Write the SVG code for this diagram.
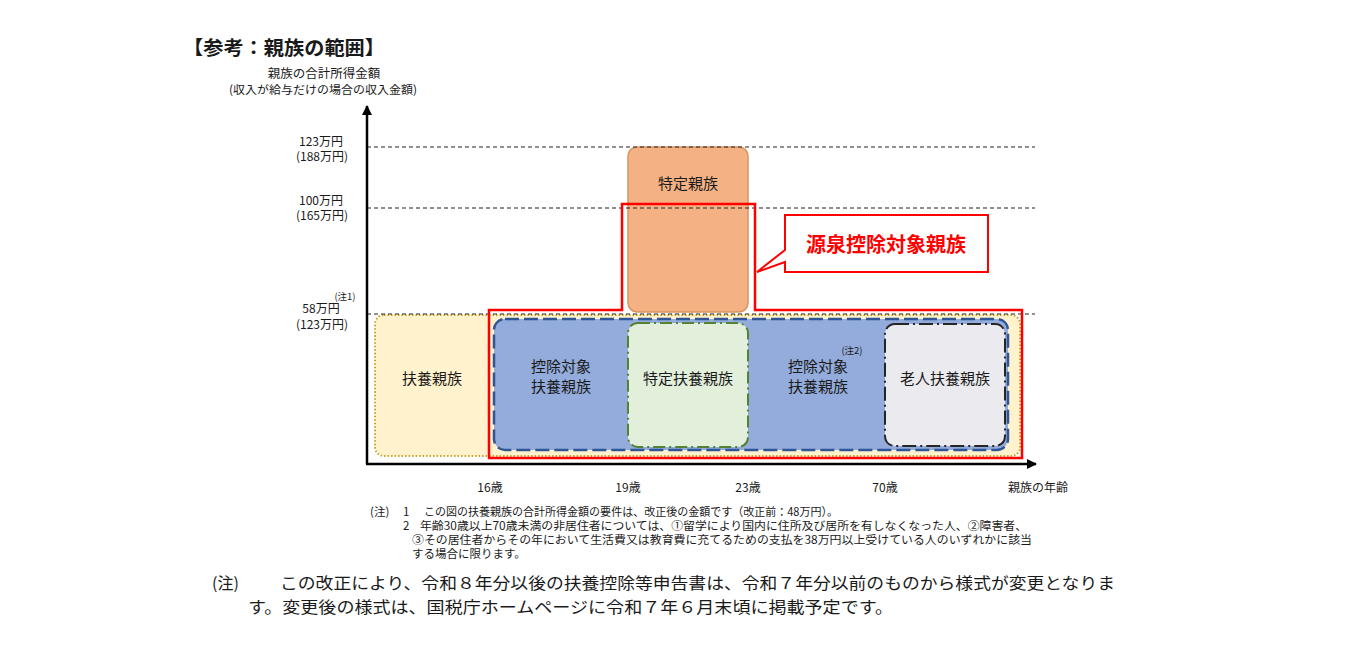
<svg xmlns="http://www.w3.org/2000/svg" width="1360" height="652" viewBox="0 0 1360 652">
<defs>
<style>
text{font-family:"Noto Sans CJK JP","Noto Sans",sans-serif;fill:#1a1a1a;font-variant-ligatures:none}
.lbl{font-size:15px;text-anchor:middle}
.ax{font-size:12px;text-anchor:middle}
.note{font-size:11.5px}
.big{font-size:16px}
.grid{stroke:#222;stroke-width:1;stroke-dasharray:4 3;fill:none}
</style>
<marker id="arr" viewBox="0 0 10 10" refX="9" refY="5" markerWidth="10" markerHeight="10" markerUnits="userSpaceOnUse" orient="auto">
<path d="M0,0 L10,5 L0,10 Z" fill="#000"/>
</marker>
</defs>
<rect width="1360" height="652" fill="#fff"/>

<g id="title">
<text x="183" y="55" style="font-size:19px;font-weight:bold" textLength="202" lengthAdjust="spacingAndGlyphs">【参考：親族の範囲】</text>
<text x="324" y="78" style="font-size:12.5px" text-anchor="middle">親族の合計所得金額</text>
<text x="323" y="94" style="font-size:11.5px" text-anchor="middle" textLength="188" lengthAdjust="spacingAndGlyphs">(収入が給与だけの場合の収入金額)</text>
</g>

<g id="y-labels" class="ax">
<text x="321" y="146">123万円</text>
<text x="322" y="161">(188万円)</text>
<text x="321" y="205">100万円</text>
<text x="322" y="220">(165万円)</text>
<text x="345" y="300" style="font-size:9.5px">(注1)</text>
<text x="321" y="313">58万円</text>
<text x="322" y="329">(123万円)</text>
</g>

<g id="fuyou">
<rect x="375" y="315" width="645" height="141" rx="9" fill="#FFF2CC" stroke="#C9A227" stroke-width="2" stroke-dasharray="1.5 2"/>
<text class="lbl" x="432" y="384">扶養親族</text>
</g>

<g id="koujo-taishou">
<rect x="494" y="319" width="514" height="131" rx="11" fill="#93ACDB" stroke="#2F5597" stroke-width="2.5" stroke-dasharray="14 5"/>
<text class="lbl" x="561" y="372">控除対象</text>
<text class="lbl" x="561" y="392">扶養親族</text>
<text class="lbl" x="818" y="372">控除対象</text>
<text class="lbl" x="818" y="392">扶養親族</text>
<text x="852" y="354" style="font-size:9.5px" text-anchor="middle">(注2)</text>
</g>

<g id="tokutei-fuyou">
<rect x="628" y="323" width="120" height="124" rx="10" fill="#E2EFDA" stroke="#548235" stroke-width="2" stroke-dasharray="12 4 2 4"/>
<text class="lbl" x="688" y="384">特定扶養親族</text>
</g>

<g id="roujin-fuyou">
<rect x="885" y="324" width="120" height="122" rx="10" fill="#EBEBEF" stroke="#262626" stroke-width="2" stroke-dasharray="14 4 2 4"/>
<text class="lbl" x="945" y="384">老人扶養親族</text>
</g>

<g id="tokutei-shinzoku">
<rect x="628" y="147" width="120" height="165" rx="9" fill="#F4B183" stroke="#D99460" stroke-width="1.5"/>
<text class="lbl" x="688" y="189">特定親族</text>
</g>

<g id="gridlines">
<line class="grid" x1="367" y1="147" x2="1035" y2="147"/>
<line class="grid" x1="367" y1="208" x2="1035" y2="208"/>
<line class="grid" x1="367" y1="314" x2="1035" y2="314"/>
</g>

<g id="gensen-outline">
<path d="M489,458 L489,310 L622,310 L622,204 L755,204 L755,310 L1022,310 L1022,458 Z" fill="none" stroke="#FF0000" stroke-width="2.5"/>
</g>

<g id="gensen-callout">
<path d="M785,215 L988,215 L988,272 L785,272 L785,262 L757,272 L785,250 Z" fill="#fff" stroke="#FF0000" stroke-width="2"/>
<text x="886" y="252" style="font-size:20px;font-weight:bold;fill:#FF0000" text-anchor="middle">源泉控除対象親族</text>
</g>

<g id="connectors">
<line x1="367" y1="464" x2="367" y2="106" stroke="#000" stroke-width="2.5" marker-end="url(#arr)"/>
<line x1="366" y1="464" x2="1036" y2="464" stroke="#000" stroke-width="2.5" marker-end="url(#arr)"/>
</g>

<g id="x-labels" class="ax">
<text x="490" y="492">16歳</text>
<text x="628" y="492">19歳</text>
<text x="748" y="492">23歳</text>
<text x="885" y="492">70歳</text>
<text x="1038" y="492">親族の年齢</text>
</g>

<g id="notes" class="note">
<text x="370" y="516">(注)</text>
<text x="403" y="516">1</text>
<text x="424" y="516" textLength="414" lengthAdjust="spacingAndGlyphs">この図の扶養親族の合計所得金額の要件は、改正後の金額です（改正前：48万円）。</text>
<text x="403" y="530">2</text>
<text x="420" y="530" textLength="607" lengthAdjust="spacingAndGlyphs">年齢30歳以上70歳未満の非居住者については、①留学により国内に住所及び居所を有しなくなった人、②障害者、</text>
<text x="412" y="544" textLength="620" lengthAdjust="spacingAndGlyphs">③その居住者からその年において生活費又は教育費に充てるための支払を38万円以上受けている人のいずれかに該当</text>
<text x="412" y="558">する場合に限ります。</text>
</g>

<g id="footnote" class="big">
<text x="212" y="589">(注)</text>
<text x="280" y="589" textLength="835" lengthAdjust="spacingAndGlyphs">この改正により、令和８年分以後の扶養控除等申告書は、令和７年分以前のものから様式が変更となりま</text>
<text x="248" y="613" textLength="645" lengthAdjust="spacingAndGlyphs">す。変更後の様式は、国税庁ホームページに令和７年６月末頃に掲載予定です。</text>
</g>
</svg>
